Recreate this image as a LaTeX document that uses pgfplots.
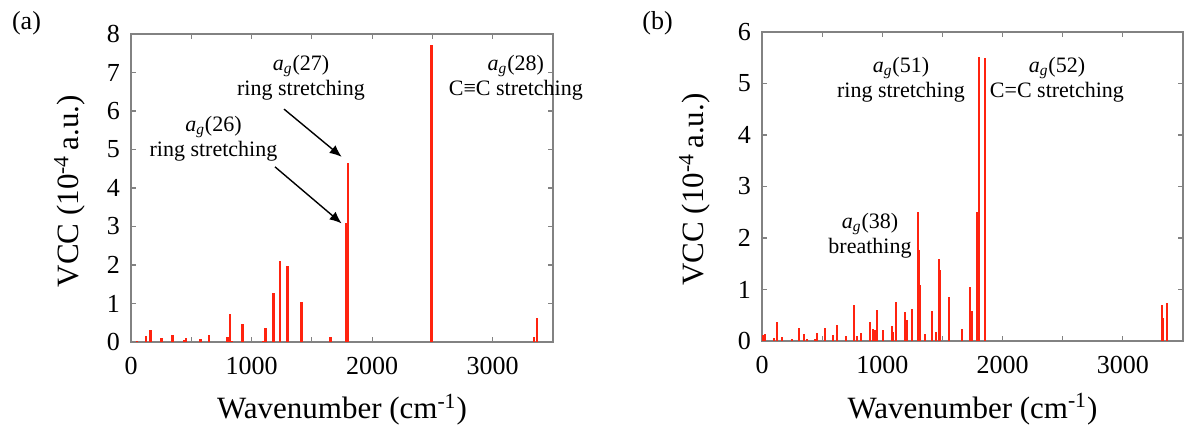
\documentclass[border=0pt]{standalone}
\usepackage{fontspec}
\IfFontExistsTF{LiberationSerif-Regular.ttf}
  {\setmainfont{LiberationSerif-Regular.ttf}[ItalicFont=LiberationSerif-Italic.ttf,
    BoldFont=LiberationSerif-Bold.ttf]}
  {\setmainfont{Liberation Serif}}
\usepackage{pgfplots}
\pgfplotsset{compat=1.18}
\usetikzlibrary{arrows.meta}

\definecolor{barred}{RGB}{255,35,15}
\definecolor{framegray}{RGB}{130,130,130}

\newcommand{\ag}[1]{\textit{a}\textsubscript{\textit{g}}(#1)}

\tikzset{note/.style={font=\fontsize{11}{12.5}\selectfont, align=center, inner sep=0pt}}

\pgfplotsset{
  vcc/.style={
    scale only axis,
    xmin=0, xmax=3500, ymin=0,
    xtick={0,1000,2000,3000},
    minor xtick={500,1500,2500,3500},
    tick align=inside,
    major tick length=2.5pt, minor tick length=2.5pt,
    axis line style={framegray, line width=0.6pt},
    every tick/.style={framegray, line width=0.6pt},
    /pgf/number format/assume math mode=true,
    /pgf/number format/1000 sep={},
    tick label style={font=\fontsize{13}{15}\selectfont},
    xticklabel style={yshift=-4pt},
    yticklabel style={xshift=-2pt},
    label style={font=\fontsize{15.5}{18}\selectfont},
    xlabel={Wavenumber (cm\textsuperscript{-1})},
    ylabel={VCC (10\textsuperscript{-4}\,a.u.)},
    xlabel style={at={(axis description cs:0.5,-0.22)}, anchor=center},
    clip=false,
  },
}

\begin{document}
\begin{tikzpicture}
\useasboundingbox (0,0) rectangle (592.5pt,-216pt);

\node[font=\fontsize{13}{15}\selectfont] at (13.25pt,-11.5pt) {(a)};
\node[font=\fontsize{13}{15}\selectfont] at (328.75pt,-11.5pt) {(b)};

% panel (a)
\begin{axis}[vcc, at={(65.5pt,-171pt)}, anchor=south west,
  width=211pt, height=154pt, ymax=8, ytick={0,1,...,8},
  ylabel style={at={(axis description cs:-0.145,0.49)}, anchor=center}]
\addplot[ycomb, barred, line width=1.2pt, mark=none] coordinates {
(52,0.03)(124,0.16)(163,0.31)(254,0.11)(345,0.18)(442,0.05)(456,0.10)
(578,0.08)(647,0.18)(801,0.12)(821,0.74)(840,0.02)(926,0.48)(1096,0.02)
(1114,0.36)(1183,1.28)(1236,2.10)(1299,1.98)(1415,1.03)(1656,0.12)
(1783,3.08)(1802,4.66)(2493,7.71)(3344,0.12)(3369,0.62)};
\node[note] at (axis cs:1410,6.87) {\ag{27}\\ring stretching};
\node[note] at (axis cs:684,5.29) {\ag{26}\\ring stretching};
\node[note] at (axis cs:3192,6.87) {\ag{28}\\C≡C stretching};
\draw[-{Latex[length=6pt,width=5pt]}, line width=0.7pt] (axis cs:1269,6.05) -- (axis cs:1747,4.81);
\draw[-{Latex[length=6pt,width=5pt]}, line width=0.7pt] (axis cs:1194,4.55) -- (axis cs:1747,3.08);
\end{axis}

% panel (b)
\begin{axis}[vcc, at={(381pt,-170.5pt)}, anchor=south west,
  width=210.5pt, height=154.5pt, ymax=6, ytick={0,1,...,6},
  ylabel style={at={(axis description cs:-0.16,0.49)}, anchor=center}]
\addplot[ycomb, barred, line width=1pt, mark=none] coordinates {
(11,0.12)(25,0.13)(102,0.05)(127,0.37)(163,0.07)(252,0.04)(305,0.25)
(352,0.13)(371,0.03)(438,0.04)(460,0.16)(526,0.26)(587,0.12)(626,0.32)
(698,0.10)(762,0.69)(787,0.10)(826,0.16)(898,0.37)(923,0.23)(939,0.21)
(959,0.60)(1003,0.22)(1078,0.29)(1092,0.17)(1111,0.75)(1189,0.56)
(1203,0.41)(1244,0.62)(1294,2.50)(1305,1.77)(1316,1.09)(1355,0.14)
(1413,0.59)(1446,0.17)(1469,1.59)(1482,1.38)(1552,0.86)(1663,0.24)
(1729,1.05)(1746,0.59)(1785,2.50)(1804,5.52)(1854,5.50)
(3322,0.69)(3336,0.45)(3364,0.73)};
\node[note] at (axis cs:1155,5.08) {\ag{51}\\ring stretching};
\node[note] at (axis cs:2452,5.08) {\ag{52}\\C=C stretching};
\node[note] at (axis cs:898,2.05) {\ag{38}\\breathing};
\end{axis}
\end{tikzpicture}
\end{document}
